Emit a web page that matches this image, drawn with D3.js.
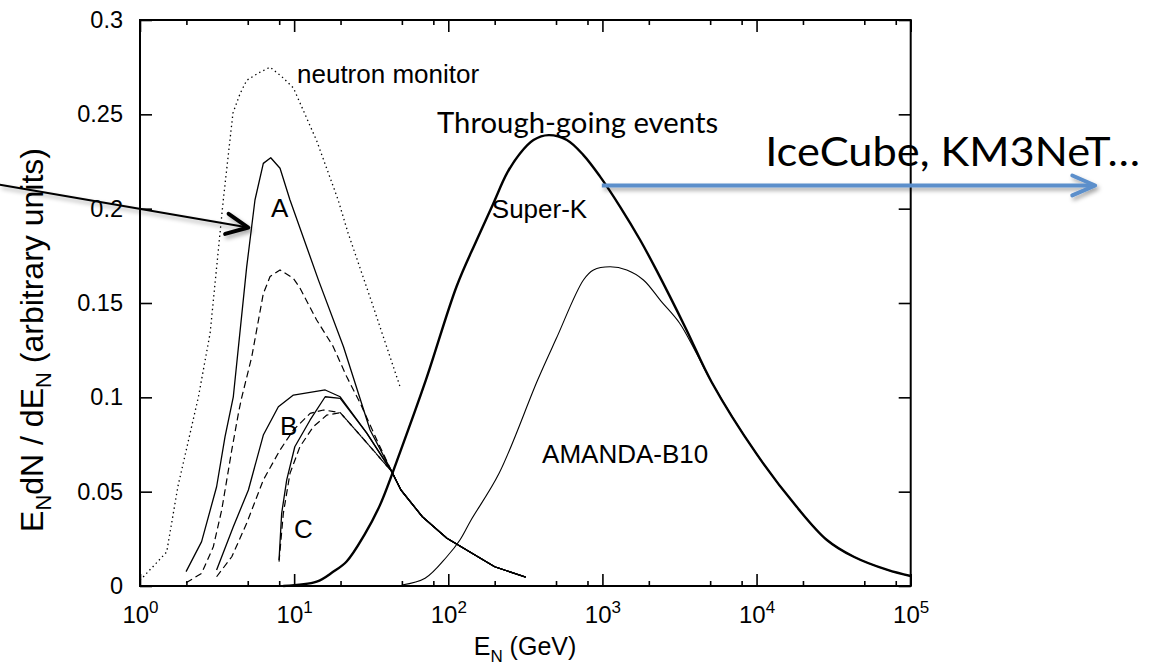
<!DOCTYPE html>
<html><head><meta charset="utf-8">
<script src="https://cdn.jsdelivr.net/npm/d3@7"></script>
<style>
body{margin:0;background:#fff;}
svg{display:block;}
text{font-family:"Liberation Sans",Arial,Helvetica,sans-serif;fill:#000;}
</style>
</head><body>
<svg id="c" width="1154" height="668"></svg>
<script>
// ---------- axis ticks ----------
const xDecades = [1, 10, 100, 1000, 10000, 100000];
const xExponents = ["0", "1", "2", "3", "4", "5"];
const xMinor = [2, 5, 8, 20, 50, 80, 200, 500, 800, 2000, 5000, 8000, 20000, 50000, 80000];
const yTicks = [0, 0.05, 0.1, 0.15, 0.2, 0.25, 0.3];
const yTickLabels = ["0", "0.05", "0.1", "0.15", "0.2", "0.25", "0.3"];

// ---------- series (E in GeV, E dN/dE arbitrary) ----------
const tailE = [49.3, 67.9, 98, 200, 318];
const tailY = [0.0509, 0.0367, 0.0253, 0.0102, 0.0047];

const neutronE = [1.0, 1.49, 1.76, 2.39, 2.85, 3.47, 4.01, 4.46, 4.92, 5.9, 6.98, 8.31, 9.89, 14.0, 19.3, 22.4, 32.0, 48.7];
const neutronY = [0.003, 0.018, 0.0526, 0.100, 0.134, 0.2046, 0.2507, 0.261, 0.268, 0.272, 0.275, 0.270, 0.264, 0.236, 0.2046, 0.187, 0.150, 0.1055];

const aE = [1.99, 2.51, 3.14, 3.56, 4.03, 4.92, 5.57, 6.31, 7.05, 8.10, 9.40, 14.4, 20.9, 31.1, 43.0];
const aY = [0.0076, 0.0235, 0.0526, 0.079, 0.1003, 0.169, 0.2046, 0.224, 0.227, 0.2214, 0.2046, 0.162, 0.1268, 0.0827, 0.0606];

const aDashE = [1.99, 2.51, 2.99, 3.39, 3.94, 4.35, 4.53, 5.31, 6.31, 6.98, 8.10, 9.89, 10.9, 14.0, 17.9, 21.9, 26.8, 34.4, 43.0];
const aDashY = [0.0017, 0.0067, 0.0208, 0.0403, 0.0721, 0.0915, 0.0986, 0.1215, 0.155, 0.164, 0.1675, 0.163, 0.158, 0.141, 0.127, 0.111, 0.097, 0.0774, 0.0606];

const bE = [3.14, 4.03, 5.05, 6.31, 7.90, 9.89, 15.9, 19.9, 29.6, 43.0];
const bY = [0.0085, 0.0314, 0.0509, 0.080, 0.095, 0.1012, 0.1039, 0.1003, 0.081, 0.0606];

const bDashE = [3.14, 3.94, 4.92, 6.31, 8.1, 9.89, 12.7, 15.5, 19.9, 29.6, 43.0];
const bDashY = [0.0049, 0.0155, 0.0332, 0.0562, 0.0721, 0.0827, 0.0915, 0.0933, 0.0919, 0.0759, 0.0606];

const cE = [7.98, 8.30, 8.95, 10.1, 12.7, 15.9, 19.9, 29.6, 43.0];
const cY = [0.0138, 0.0385, 0.0562, 0.0738, 0.088, 0.1003, 0.0995, 0.081, 0.0606];

const cDashE = [7.98, 8.51, 9.40, 10.9, 13.3, 16.3, 19.9, 29.6, 43.0];
const cDashY = [0.0129, 0.0385, 0.0597, 0.0738, 0.0844, 0.0906, 0.0919, 0.0759, 0.0606];

const superKE = [8.5, 14.0, 17.9, 21.9, 28.5, 36.1, 48.7, 71.6, 113.5, 153, 196, 240, 292, 357, 447, 588, 753, 966, 1303, 1757, 2254, 3500, 5117, 10000, 18200, 28600, 42700, 70800, 100000];
const superKY = [0.0, 0.0023, 0.0075, 0.013, 0.027, 0.043, 0.071, 0.1092, 0.159, 0.1834, 0.2028, 0.2187, 0.2293, 0.2364, 0.2390, 0.2364, 0.2284, 0.217, 0.201, 0.1834, 0.167, 0.136, 0.108, 0.070, 0.042, 0.0244, 0.0155, 0.0085, 0.0053];

const amandaE = [50, 70.7, 97.8, 119, 140.6, 213.6, 380, 501, 753, 875, 1122, 1439, 1845, 2399, 3162, 4000, 5117, 10000, 18200, 28600, 42700, 70800, 100000];
const amandaY = [0.0005, 0.0041, 0.0155, 0.0244, 0.035, 0.0597, 0.1092, 0.131, 0.1622, 0.1675, 0.1692, 0.1675, 0.1622, 0.151, 0.1394, 0.1246, 0.108, 0.070, 0.042, 0.0244, 0.0155, 0.0085, 0.0053];

// ---------- annotations (data coordinates) ----------
const labelText = ["neutron monitor", "A", "B", "C", "Super-K", "AMANDA-B10"];
const labelE = [10.44, 7.08, 8.10, 9.99, 191.6, 406];
const labelY = [0.2666, 0.1956, 0.0800, 0.0254, 0.1952, 0.0650];

// ---------- drawing ----------
const W = 1154, H = 668;
const svg = d3.select("#c");
const x = d3.scaleLog().domain([1, 1e5]).range([140, 910.7]);
const y = d3.scaleLinear().domain([0, 0.3]).range([586, 20]);

const defs = svg.append("defs");
const f = defs.append("filter").attr("id", "sh").attr("filterUnits", "userSpaceOnUse")
  .attr("x", 0).attr("y", 0).attr("width", W).attr("height", H);
f.append("feDropShadow").attr("dx", 2).attr("dy", 3).attr("stdDeviation", 2)
  .attr("flood-color", "#000").attr("flood-opacity", 0.35);

function styleAxis(g) {
  g.select(".domain").remove();
  g.selectAll(".tick line").attr("stroke", "#000").attr("stroke-width", 1.6);
}

// bottom major
const gB = svg.append("g").attr("transform", `translate(0,${y(0)})`)
  .call(d3.axisBottom(x).tickValues(xDecades).tickSizeInner(-12).tickSizeOuter(0).tickFormat(""));
styleAxis(gB);
gB.selectAll(".tick text").remove();
gB.selectAll(".tick").each(function(d, i) {
  const t = d3.select(this).append("text").attr("y", 37).attr("text-anchor", "middle")
    .attr("font-size", 24);
  t.append("tspan").text("10");
  t.append("tspan").attr("font-size", 17).attr("dy", -10).text(xExponents[i]);
});
// bottom minor
styleAxis(svg.append("g").attr("transform", `translate(0,${y(0)})`)
  .call(d3.axisBottom(x).tickValues(xMinor).tickSizeInner(-5).tickSizeOuter(0).tickFormat("")));
// top
styleAxis(svg.append("g").attr("transform", `translate(0,${y(0.3)})`)
  .call(d3.axisTop(x).tickValues(xDecades).tickSizeInner(-12).tickSizeOuter(0).tickFormat("")));
styleAxis(svg.append("g").attr("transform", `translate(0,${y(0.3)})`)
  .call(d3.axisTop(x).tickValues(xMinor).tickSizeInner(-5).tickSizeOuter(0).tickFormat("")));
// left
const gL = svg.append("g").attr("transform", `translate(${x(1)},0)`)
  .call(d3.axisLeft(y).tickValues(yTicks).tickSizeInner(-12).tickSizeOuter(0).tickPadding(17)
    .tickFormat((d, i) => yTickLabels[i]));
styleAxis(gL);
gL.selectAll(".tick text").attr("font-size", 23.5).attr("font-family", "'Liberation Sans',Arial,sans-serif").attr("fill", "#000");
// right
styleAxis(svg.append("g").attr("transform", `translate(${x(1e5)},0)`)
  .call(d3.axisRight(y).tickValues(yTicks).tickSizeInner(-12).tickSizeOuter(0).tickFormat("")));

// frame
svg.append("rect").attr("x", x(1)).attr("y", y(0.3)).attr("width", x(1e5) - x(1)).attr("height", y(0) - y(0.3))
  .attr("fill", "none").attr("stroke", "#000").attr("stroke-width", 2);

// curves
const zip = (E, Y) => E.map((e, i) => [e, Y[i]]);
const lineLin = d3.line().x(d => x(d[0])).y(d => y(d[1]));
const lineSmooth = d3.line().x(d => x(d[0])).y(d => y(d[1])).curve(d3.curveCatmullRom.alpha(0.5));
const tail = zip(tailE, tailY);

const series = [
  {pts: zip(neutronE, neutronY), w: 1.3, dash: "1.4,3.2", smooth: false},
  {pts: zip(aE, aY).concat(tail), w: 1.3, dash: null, smooth: false},
  {pts: zip(aDashE, aDashY).concat(tail), w: 1.2, dash: "7,4", smooth: false},
  {pts: zip(bE, bY).concat(tail), w: 1.3, dash: null, smooth: false},
  {pts: zip(bDashE, bDashY).concat(tail), w: 1.2, dash: "7,4", smooth: false},
  {pts: zip(cE, cY).concat(tail), w: 1.3, dash: null, smooth: false},
  {pts: zip(cDashE, cDashY).concat(tail), w: 1.2, dash: "7,4", smooth: false},
  {pts: zip(superKE, superKY), w: 2.4, dash: null, smooth: true},
  {pts: zip(amandaE, amandaY), w: 1.1, dash: null, smooth: true}
];
svg.append("g").selectAll("path").data(series).join("path")
  .attr("d", s => (s.smooth ? lineSmooth : lineLin)(s.pts))
  .attr("fill", "none").attr("stroke", "#000").attr("stroke-width", s => s.w)
  .attr("stroke-dasharray", s => s.dash).attr("stroke-linejoin", "round");

// labels
svg.append("g").selectAll("text").data(labelText).join("text")
  .attr("x", (d, i) => x(labelE[i])).attr("y", (d, i) => y(labelY[i]))
  .attr("font-size", 26).text(d => d);

// Calibri-like annotations
svg.append("text").attr("x", x(84.6)).attr("y", y(0.2401))
  .attr("font-size", 28)
  .attr("textLength", 281).attr("lengthAdjust", "spacingAndGlyphs")
  .style("font-family", "Lato, 'Open Sans', sans-serif").text("Through-going events");
svg.append("text").attr("x", x(11370)).attr("y", y(0.2226))
  .attr("font-size", 40).attr("textLength", 375).attr("lengthAdjust", "spacingAndGlyphs")
  .style("font-family", "Lato, 'Open Sans', sans-serif").text("IceCube, KM3NeT\u2026");

// axis titles
const xt = svg.append("text").attr("x", 525).attr("y", 655).attr("text-anchor", "middle").attr("font-size", 25);
xt.append("tspan").text("E");
xt.append("tspan").attr("font-size", 17).attr("dy", 7).text("N");
xt.append("tspan").attr("dy", -7).text(" (GeV)");

const yt = svg.append("text").attr("transform", "translate(43,340) rotate(-90)").attr("text-anchor", "middle").attr("font-size", 32);
yt.append("tspan").text("E");
yt.append("tspan").attr("font-size", 22).attr("dy", 8).text("N");
yt.append("tspan").attr("dy", -8).text("dN / dE");
yt.append("tspan").attr("font-size", 22).attr("dy", 8).text("N");
yt.append("tspan").attr("dy", -8).text(" (arbitrary units)");

// arrows
function chevron(g, tipX, tipY, fromX, fromY, len, half, color, w) {
  const ang = Math.atan2(fromY - tipY, fromX - tipX);
  const p1 = [tipX + len * Math.cos(ang + half), tipY + len * Math.sin(ang + half)];
  const p2 = [tipX + len * Math.cos(ang - half), tipY + len * Math.sin(ang - half)];
  g.append("path").attr("d", `M${p1}L${tipX},${tipY}L${p2}`).attr("fill", "none")
    .attr("stroke", color).attr("stroke-width", w).attr("stroke-linecap", "round").attr("stroke-linejoin", "round");
}
// black arrow
const ga = svg.append("g").attr("filter", "url(#sh)");
const bx0 = x(Math.pow(10, -0.9085)), by0 = y(0.2127), bx1 = x(5.04), by1 = y(0.19);
ga.append("line").attr("x1", bx0).attr("y1", by0).attr("x2", bx1 - 3).attr("y2", by1 - 0.5)
  .attr("stroke", "#000").attr("stroke-width", 2);
chevron(ga, bx1, by1, bx0, by0, 24, 0.44, "#000", 4);

// blue arrow
const gb = svg.append("g").attr("filter", "url(#sh)");
const ux0 = x(991), uy = y(0.2123), ux1 = x(Math.pow(10, 6.197));
gb.append("line").attr("x1", ux0).attr("y1", uy).attr("x2", ux1 - 2).attr("y2", uy)
  .attr("stroke", "#5b8fcb").attr("stroke-width", 4);
chevron(gb, ux1, uy, ux0, uy, 25, 0.41, "#5b8fcb", 4);
</script>
</body></html>
